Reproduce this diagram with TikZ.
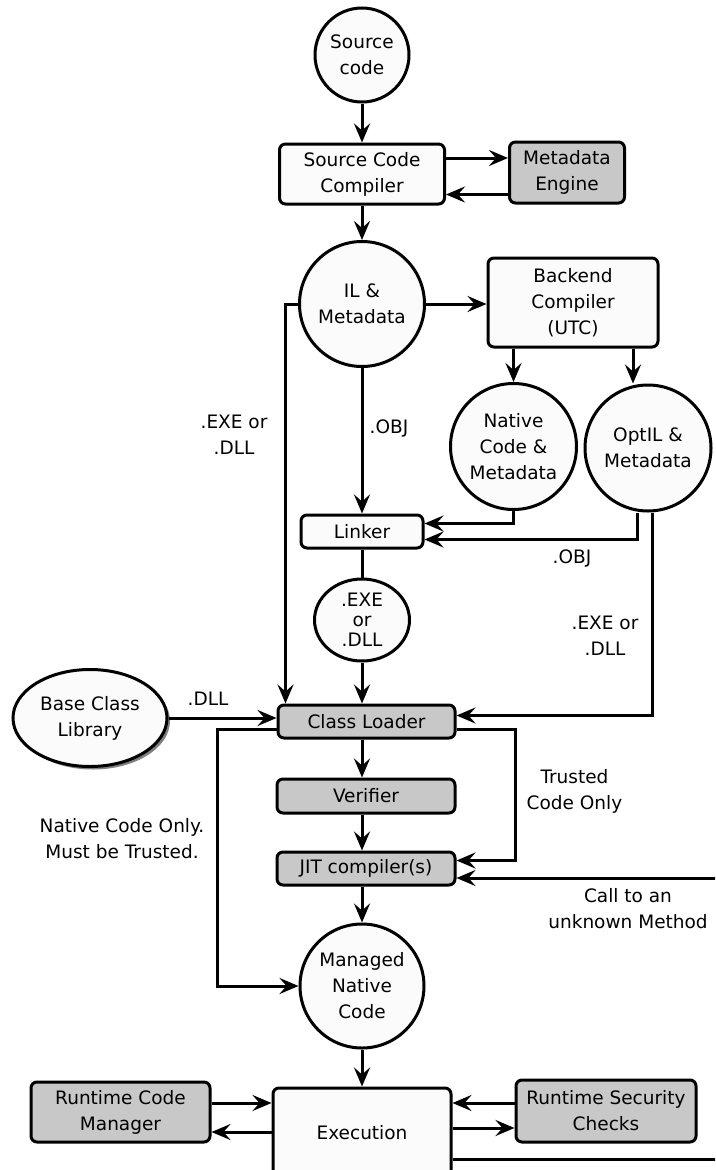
\documentclass[tikz,border=0pt]{standalone}
\usepackage{fontspec}
\setmainfont{DejaVu Sans}
\usepackage{tikz}
\usetikzlibrary{shapes,arrows.meta,positioning,calc,shadows}
\definecolor{boxwhite}{HTML}{FBFBFB}
\definecolor{boxgray}{HTML}{C8C8C8}

\tikzset{
  procbox/.style={draw, rounded corners=6pt, line width=3pt, fill=boxwhite, align=center, inner sep=2pt},
  graybox/.style={procbox, fill=boxgray},
  roundnode/.style={draw, circle, line width=3pt, fill=boxwhite, align=center, inner sep=0pt},
  note/.style={align=center},
}

\begin{document}
\begin{tikzpicture}[x=1pt, y=-1pt, line width=3pt,
    >={Stealth[length=19pt,width=16pt,inset=7pt]},
    every node/.style={font=\fontsize{18.5}{26}\selectfont}]
  \useasboundingbox (0,0) rectangle (715,1170);
  \clip (0,0) rectangle (715,1170);

  % Compile stage
  \node[roundnode, minimum size=94pt] (src) at (362,55) {Source\\code};
  \node[procbox, minimum width=165pt, minimum height=60pt] (scc) at (362,174) {Source Code\\Compiler};
  \node[graybox, minimum width=115pt, minimum height=61pt] (meta) at (567,172.5) {Metadata\\Engine};
  \node[roundnode, minimum size=125pt] (il) at (362,304) {IL \&\\Metadata};
  \node[procbox, minimum width=170pt, minimum height=89pt] (utc) at (573,302.5) {Backend\\Compiler\\(UTC)};
  \node[roundnode, minimum size=126pt] (natc) at (513.5,446.5) {Native\\Code \&\\Metadata};
  \node[roundnode, minimum size=126pt] (optil) at (648,448) {OptIL \&\\Metadata};
  \node[procbox, minimum width=122pt, minimum height=33pt] (linker) at (362,531.5) {Linker};
  \node[roundnode, ellipse, minimum width=95pt, minimum height=82pt,
        font=\fontsize{18.5}{20}\selectfont] (exedll) at (362,620) {.EXE\\or\\.DLL};

  % Load stage
  \node[roundnode, ellipse, minimum width=154pt, minimum height=97pt,
        drop shadow={fill=black!50, opacity=1, shadow xshift=3pt, shadow yshift=-3pt}] (bcl) at (90,718) {Base Class\\Library};
  \node[graybox, minimum width=177pt, minimum height=33pt] (loader) at (366.5,721.5) {Class Loader};
  \node[graybox, minimum width=178pt, minimum height=34pt] (verif) at (366,796) {Verifier};
  \node[graybox, minimum width=178pt, minimum height=33pt] (jit) at (366,868.5) {JIT compiler(s)};
  \node[roundnode, minimum size=124pt] (mnc) at (362,986) {Managed\\Native\\Code};

  % Run stage
  \node[procbox, minimum width=178pt, minimum height=90pt] (exec) at (362,1133) {Execution};
  \node[graybox, minimum width=179pt, minimum height=60pt] (rcm) at (120.5,1112) {Runtime Code\\Manager};
  \node[graybox, minimum width=180pt, minimum height=62pt] (rsc) at (606,1111) {Runtime Security\\Checks};

  % Labels
  \node[note] (lexe1) at (234,435) {.EXE or\\.DLL};
  \node[note] (lobj1) at (389,428) {.OBJ};
  \node[note] (lobj2) at (572,558) {.OBJ};
  \node[note] (lexe2) at (605,636) {.EXE or\\.DLL};
  \node[note] (ldll) at (208,699) {.DLL};
  \node[note] (ltrust) at (574.5,791.5) {Trusted\\Code Only};
  \node[note] (lnative) at (122,839) {Native Code Only.\\Must be Trusted.};
  \node[note] (lcall) at (628,908.5) {Call to an\\unknown Method};

  \coordinate (trust) at (515,795);
  \coordinate (callin) at (720,878);
  \coordinate (outex) at (720,1159);

  % Connectors
  \draw[->] (src) -- (scc);
  \draw[->] ([yshift=16pt]scc.east) -- ([yshift=16pt]scc.east -| meta.west);
  \draw[->] ([yshift=-22pt]meta.west) -- ([yshift=-22pt]meta.west -| scc.east);
  \draw[->] (scc) -- (il);
  \draw[->] (il.east) -- (il.east -| utc.west);
  \draw[->] (natc.north |- utc.south) -- (natc);
  \draw[->] ([xshift=-15pt]optil.north |- utc.south) -- ([xshift=-15pt]optil.north);
  \draw[->] (il) -- (linker);
  \draw[->] (il.west) -| ([xshift=9pt]loader.north west);
  \draw[->] (natc.south) |- ([yshift=8pt]linker.east);
  \draw[->] ([xshift=-11pt]optil.south) |- ([yshift=-8pt]linker.east);
  \draw[->] ([xshift=4pt]optil.south) |- ([yshift=6pt]loader.east);
  \draw (linker) -- (exedll);
  \draw[->] (exedll) -- (exedll |- loader.north);
  \draw[->] (bcl) -- (bcl -| loader.west);
  \draw[->] ([yshift=-8pt]loader.west) -| ([xshift=-81pt]mnc.west) -- (mnc.west);
  \draw[->] (mnc |- loader.south) -- (mnc |- verif.north);
  \draw[->] (mnc |- verif.south) -- (mnc |- jit.north);
  \draw[->] (mnc |- jit.south) -- (mnc);
  \draw[->] ([yshift=-8pt]loader.east) -| (trust) |- ([yshift=8pt]jit.east);
  \draw[->] (callin) -- (callin -| jit.east);
  \draw[->] (mnc) -- (exec);
  \draw[->] ([yshift=9pt]rcm.east) -- ([yshift=9pt]rcm.east -| exec.west);
  \draw[->] ([yshift=-20pt]rcm.east -| exec.west) -- ([yshift=-20pt]rcm.east);
  \draw[->] ([yshift=8pt]rsc.west) -- ([yshift=8pt]rsc.west -| exec.east);
  \draw[->] ([yshift=-17pt]rsc.west -| exec.east) -- ([yshift=-17pt]rsc.west);
  \draw (outex -| exec.east) -- (outex);
\end{tikzpicture}
\end{document}
